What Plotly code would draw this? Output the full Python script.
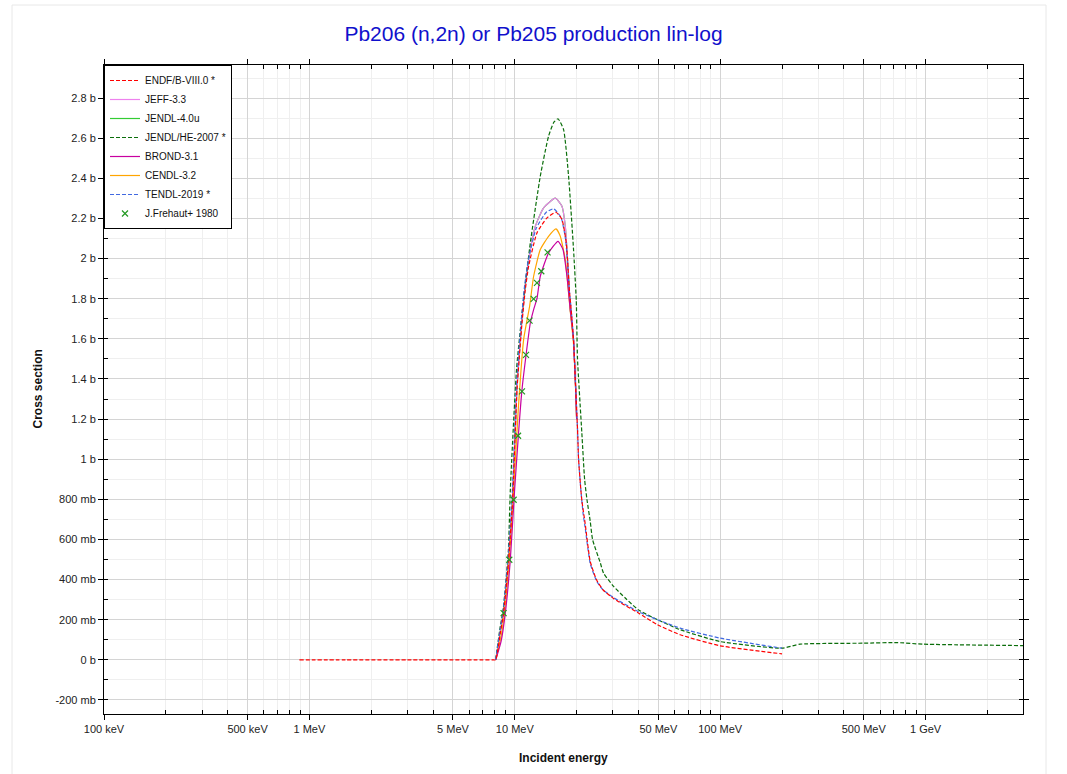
import numpy as np
import plotly.graph_objects as go

# ---------------- data (energies in MeV, cross sections in mb) ----------------
endf_e = [0.894, 1.5, 3.0, 5.0, 7.0, 7.8, 8.07, 8.5, 8.82, 9.33, 9.76, 10.25, 10.84, 11.25,
          11.68, 12.82, 14.35, 15.87, 16.97, 17.81, 18.48, 18.8, 19.3, 19.7, 20.2, 20.44,
          21.0, 21.23, 22.0, 23.3, 25.1, 27.0, 30.3, 32.0, 40.0, 49.5, 63.9, 100.0, 200.0]
endf_v = [0, 0, 0, 0, 0, 0, 0, 133, 233, 499, 798, 1347, 1679, 1845,
          1962, 2128, 2203, 2231, 2195, 2078, 1829, 1750, 1600, 1400, 1150, 1000,
          840, 790, 680, 490, 395, 347, 305, 290, 233, 175, 125, 70, 30]

jeff_e = [8.07, 8.5, 8.82, 9.33, 9.76, 10.25, 10.84, 11.25, 11.68, 12.59, 13.81, 15.74,
          16.97, 17.61, 18.27, 18.62, 19.3, 19.7, 20.0]
jeff_v = [0, 140, 240, 510, 810, 1360, 1700, 1870, 1995, 2161, 2253, 2301,
          2261, 2161, 1912, 1746, 1600, 1400, 1200]

jendl4_e = [8.07, 8.5, 8.82, 9.33, 9.76, 10.25, 10.84, 11.25, 11.68, 12.59, 13.81, 15.74,
            16.97, 17.61, 18.27, 18.62, 19.3, 19.7, 20.0]
jendl4_v = [0, 140, 240, 510, 810, 1360, 1700, 1870, 1995, 2161, 2253, 2301,
            2261, 2161, 1912, 1746, 1600, 1400, 1200]

jendlhe_e = [8.07, 8.45, 8.8, 9.3, 9.51, 10.2, 11.04, 11.9, 13.31, 14.6, 15.5, 16.23, 17.28,
             18.27, 19.32, 19.92, 20.2, 21.2, 21.87, 22.46, 23.3, 23.92, 26.07, 27.05, 30.26,
             34.5, 40.0, 49.5, 63.9, 100.0, 200.0, 245.0, 498.0, 724.0, 975.0, 2980.0]
jendlhe_v = [0, 150, 260, 540, 848, 1450, 1800, 2078, 2411, 2610, 2680, 2697, 2643,
             2411, 2045, 1790, 1500, 1132, 900, 798, 690, 599, 484, 432, 366,
             308, 249, 200, 150, 91, 58, 78, 83, 86, 78, 71]

brond_e = [8.07, 8.57, 8.99, 9.51, 9.98, 10.84, 11.9, 12.35, 12.82, 13.31, 14.6, 16.23,
           17.16, 17.95, 18.62, 19.3, 19.7, 20.0]
brond_v = [0, 91, 233, 499, 848, 1347, 1679, 1746, 1800, 1912, 2028, 2086,
           2045, 1912, 1746, 1600, 1400, 1200]

cendl_e = [8.07, 8.55, 8.9, 9.4, 9.87, 10.4, 11.04, 11.5, 11.8, 12.35, 13.31, 14.6, 15.87,
           16.65, 17.61, 18.27, 18.7, 19.3, 19.7, 20.0]
cendl_v = [0, 110, 230, 500, 848, 1250, 1596, 1700, 1760, 1912, 2045, 2111, 2148,
           2111, 1995, 1829, 1720, 1580, 1400, 1200]

tendl_e = [8.07, 8.45, 8.78, 9.28, 9.7, 10.18, 10.75, 11.15, 11.6, 12.7, 14.2, 15.45, 16.8,
           17.7, 18.4, 18.8, 19.3, 19.7, 20.2, 20.44, 21.0, 21.5, 22.0, 23.3, 25.1, 27.0,
           30.3, 32.0, 40.0, 49.5, 63.9, 100.0, 200.0]
tendl_v = [0, 140, 245, 510, 810, 1360, 1690, 1860, 1985, 2150, 2230, 2248, 2205,
           2090, 1850, 1750, 1600, 1400, 1150, 1000, 840, 730, 660, 480, 390, 347,
           310, 295, 240, 200, 158, 108, 58]

exfor_e = [8.82, 9.40, 9.87, 10.37, 10.84, 11.34, 11.80, 12.35, 12.82, 13.46, 14.44]
exfor_v = [233, 499, 798, 1117, 1338, 1520, 1691, 1799, 1879, 1937, 2031]

ytick_vals = [-200, 0, 200, 400, 600, 800, 1000, 1200, 1400, 1600, 1800, 2000, 2200, 2400, 2600, 2800]
ytick_text = ["-200 mb", "0 b", "200 mb", "400 mb", "600 mb", "800 mb", "1 b", "1.2 b", "1.4 b",
              "1.6 b", "1.8 b", "2 b", "2.2 b", "2.4 b", "2.6 b", "2.8 b"]
xtick_vals = [0.1, 0.5, 1, 5, 10, 50, 100, 500, 1000]
xtick_text = ["100 keV", "500 keV", "1 MeV", "5 MeV", "10 MeV", "50 MeV", "100 MeV", "500 MeV", "1 GeV"]

# ---------------- figure ----------------
FONT = "Liberation Sans, Arial, sans-serif"
W, H = 1067, 774
L, R, T, B = 104, 44, 65, 60

fig = go.Figure()

def add_line(x, y, name, color, dash, rank, width=1.2):
    fig.add_trace(go.Scatter(x=x, y=y, mode="lines", name=name, legendrank=rank,
                             line=dict(color=color, width=width, dash=dash,
                                       shape="spline", smoothing=0.5)))

# draw order chosen so JEFF lies on top of JENDL-4.0u
add_line(jendl4_e, jendl4_v, "JENDL-4.0u", "#33cc33", "solid", 3)
add_line(jeff_e, jeff_v, "JEFF-3.3", "#ee82ee", "solid", 2)
add_line(jendlhe_e, jendlhe_v, "JENDL/HE-2007 *", "#0b6e0b", "4px,2px", 4)
add_line(cendl_e, cendl_v, "CENDL-3.2", "#ffa500", "solid", 6)
add_line(brond_e, brond_v, "BROND-3.1", "#c800a0", "solid", 5)
add_line(tendl_e, tendl_v, "TENDL-2019 *", "#4169e1", "4px,2px", 7)
add_line(endf_e, endf_v, "ENDF/B-VIII.0 *", "#ff0000", "4px,2px", 1)
fig.add_trace(go.Scatter(x=exfor_e, y=exfor_v, mode="markers", name="J.Frehaut+ 1980",
                         legendrank=8,
                         marker=dict(symbol="x-thin", size=6, color="#229922",
                                     line=dict(color="#229922", width=1.2))))

minor_x = []
for d in range(-1, 4):
    for m in [2, 3, 4, 6, 7, 8, 9]:
        v = m * 10.0 ** d
        if v <= 3000:
            minor_x.append(v)

fig.update_xaxes(type="log", range=[-1, np.log10(2980)],
                 tickmode="array", tickvals=xtick_vals, ticktext=xtick_text,
                 ticks="outside", ticklen=5, tickcolor="#000",
                 showline=True, linecolor="#000", linewidth=1, mirror="ticks",
                 showgrid=True, gridcolor="#d4d4d4", gridwidth=1, zeroline=False,
                 tickfont=dict(family=FONT, size=11, color="#222"),
                 minor=dict(tickmode="array", tickvals=minor_x, ticks="inside", ticklen=4,
                            tickcolor="#000", showgrid=True, gridcolor="#efefef"))
fig.update_yaxes(range=[-270, 2965],
                 tickmode="array", tickvals=ytick_vals, ticktext=ytick_text,
                 ticks="outside", ticklen=5, tickcolor="#000",
                 showline=True, linecolor="#000", linewidth=1, mirror="ticks",
                 showgrid=True, gridcolor="#d4d4d4", gridwidth=1, zeroline=False,
                 tickfont=dict(family=FONT, size=11, color="#222"),
                 minor=dict(dtick=100, tick0=0, ticks="inside", ticklen=4,
                            tickcolor="#000", showgrid=True, gridcolor="#efefef"))

pw = W - L - R
ph = H - T - B
fig.update_layout(
    width=W, height=H,
    margin=dict(l=L, r=R, t=T, b=B),
    paper_bgcolor="white", plot_bgcolor="white",
    title=dict(text="Pb206 (n,2n) or Pb205 production lin-log",
               font=dict(family=FONT, size=21, color="#1010cc"),
               x=0.5, xanchor="center", y=1 - 34 / H, yanchor="middle"),
    legend=dict(x=0, y=1, xanchor="left", yanchor="top",
                bgcolor="white", bordercolor="#000", borderwidth=1,
                font=dict(family=FONT, size=10, color="#111"),
                itemwidth=30, tracegroupgap=0),
    showlegend=True,
    annotations=[
        dict(text="<b>Incident energy</b>", xref="paper", yref="paper",
             x=0.5, y=(H - B - 758) / ph, xanchor="center", yanchor="middle",
             showarrow=False, font=dict(family=FONT, size=12, color="#111")),
        dict(text="<b>Cross section</b>", xref="paper", yref="paper",
             x=(37 - L) / pw, y=0.5, xanchor="center", yanchor="middle", textangle=-90,
             showarrow=False, font=dict(family=FONT, size=12, color="#111")),
    ],
    shapes=[dict(type="rect", xref="paper", yref="paper", layer="below",
                 x0=(12 - L) / pw, x1=(1046 - L) / pw,
                 y0=(H - B - 790) / ph, y1=(H - B - 5) / ph,
                 line=dict(color="#e8e8e8", width=1), fillcolor="rgba(0,0,0,0)")],
)

fig.write_html("out.html", include_plotlyjs=True,
               config={"displayModeBar": False},
               post_script="document.body.style.margin='0';document.body.style.overflow='hidden';")
